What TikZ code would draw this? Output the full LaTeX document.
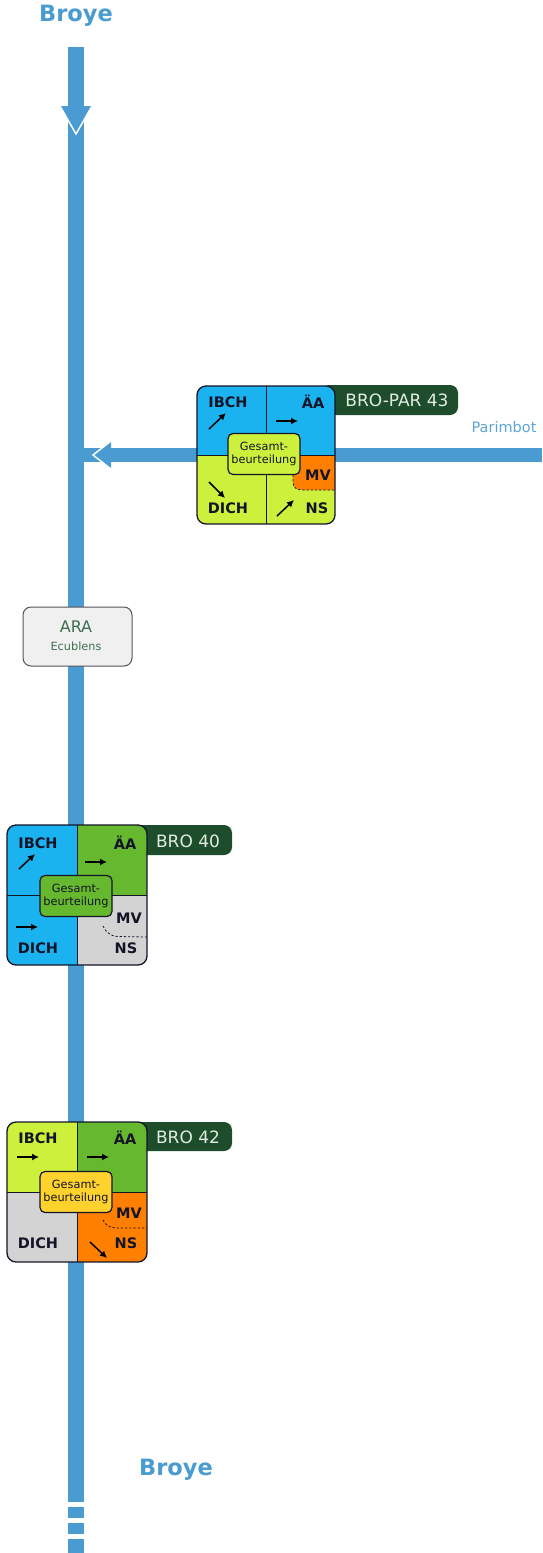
\documentclass[tikz,border=0pt]{standalone}
\usepackage{fontspec}
\setmainfont{DejaVu Sans}
\usetikzlibrary{arrows.meta}
\definecolor{river}{HTML}{4A9BD2}
\definecolor{riverlight}{HTML}{5DA5D3}
\definecolor{qblue}{HTML}{1AB3F0}
\definecolor{qyg}{HTML}{CDF03C}
\definecolor{qgreen}{HTML}{66B82E}
\definecolor{qgray}{HTML}{D3D3D3}
\definecolor{qorange}{HTML}{FF8000}
\definecolor{qyellow}{HTML}{FFD22E}
\definecolor{labelg}{HTML}{1E4D2B}
\definecolor{labeltext}{HTML}{E2ECE2}
\definecolor{qtext}{HTML}{141428}
\definecolor{aratext}{HTML}{3F6E4F}
\definecolor{arafill}{HTML}{F0F0F0}
\definecolor{araline}{HTML}{555555}
\tikzset{
  qlab/.style={text=qtext, font=\fontsize{14.5}{16}\selectfont\bfseries, inner sep=0pt},
  lbltext/.style={text=labeltext, font=\fontsize{17}{19}\selectfont, inner sep=0pt},
  gesamt/.style={draw=qtext, line width=1.2pt, rounded corners=5pt, minimum width=72pt, minimum height=41pt,
    align=center, inner sep=1pt, text=qtext, font=\fontsize{11.3}{13.5}\selectfont},
  qarrow/.style={draw=black, line width=1.5pt, -{Latex[length=7pt,width=7pt]}},
  divline/.style={draw=qtext, line width=0.9pt},
  boxline/.style={draw=qtext, line width=1.3pt},
  mvdash/.style={draw=qtext, line width=0.8pt, dash pattern=on 2.2pt off 2pt},
  rivertitle/.style={text=river, font=\fontsize{22.5}{25}\selectfont\bfseries, inner sep=0pt}
}
\begin{document}
\begin{tikzpicture}[x=1pt,y=-1pt]
\useasboundingbox (0,0) rectangle (542,1553);

% ---------- river Broye ----------
\node[rivertitle] (broyetop) at (76,16) {Broye};
\node[rivertitle] (broyebot) at (176,1470) {Broye};
\coordinate (rtop) at (76,47);
\coordinate (rend) at (76,1502);
\draw[river, line width=16pt] (rtop) -- (rend);
\fill[river] (68,1507) rectangle (84,1518);
\fill[river] (68,1523) rectangle (84,1534);
\fill[river] (68,1539) rectangle (84,1553);
\filldraw[fill=river, draw=white, line width=1.5pt] (60,106) -- (76,134) -- (92,106);

% ---------- tributary Parimbot ----------
\node[text=riverlight, font=\fontsize{14.5}{16}\selectfont, inner sep=0pt] (parimbot) at (504,427) {Parimbot};
\coordinate (pstart) at (542,455);
\coordinate (pend) at (80,455);
\draw[river, line width=14pt] (pstart) -- (pend);
\filldraw[fill=river, draw=white, line width=1.5pt] (111,441) -- (93,455) -- (111,469);

% ---------- ARA ----------
\node[draw=araline, fill=arafill, line width=1pt, rounded corners=8pt, minimum width=109pt, minimum height=59pt] (ara) at (77.5,636.5) {};
\node[text=aratext, font=\fontsize{16}{18}\selectfont, inner sep=0pt] (aratitle) at (76,627) {ARA};
\node[text=aratext, font=\fontsize{11.3}{13}\selectfont, inner sep=0pt] (arasub) at (76,646) {Ecublens};

% ---------- BRO-PAR 43 ----------
\begin{scope}[shift={(266,455)}]
  \fill[labelg, rounded corners=8pt] (55,-70) rectangle (192,-40);
  \node[lbltext] (par-lbl) at (131,-55) {BRO-PAR 43};
  \begin{scope}
    \clip[rounded corners=9pt] (-69,-69) rectangle (69,69);
    \fill[qblue] (-69,-69) rectangle (69,0);
    \fill[qyg] (-69,0) rectangle (69,69);
    \fill[qorange] (69,0) -- (36,0) .. controls (30,2) and (27,8) .. (27,16) -- (27,27) .. controls (27,32) and (30,35) .. (36,35) -- (69,35) -- cycle;
    \draw[mvdash] (27,20) -- (27,27) .. controls (27,32) and (30,35) .. (36,35) -- (69,35);
  \end{scope}
  \draw[divline] (0,-69) -- (0,69) (-69,0) -- (69,0);
  \draw[boxline, rounded corners=9pt] (-69,-69) rectangle (69,69);
  \node[qlab] (par-ibch) at (-38,-53) {IBCH};
  \node[qlab] (par-aa) at (47,-53) {ÄA};
  \node[qlab] (par-dich) at (-38,53) {DICH};
  \node[qlab] (par-ns) at (51,53) {NS};
  \node[qlab] (par-mv) at (52,20) {MV};
  \draw[qarrow] (-57,-26) -- (-40,-42);
  \draw[qarrow] (10,-34) -- (32,-34);
  \draw[qarrow] (-57,27) -- (-41,43);
  \draw[qarrow] (11,61) -- (28,45);
  \node[gesamt, fill=qyg] (par-g) at (-2,-1) {Gesamt-\\beurteilung};
\end{scope}

% ---------- BRO 40 ----------
\begin{scope}[shift={(77,895)}]
  \fill[labelg, rounded corners=8pt] (55,-70) rectangle (155,-40);
  \node[lbltext] (b40-lbl) at (111,-54) {BRO 40};
  \begin{scope}
    \clip[rounded corners=9pt] (-70,-70) rectangle (70,70);
    \fill[qblue] (-70,-70) rectangle (0,70);
    \fill[qgreen] (0,-70) rectangle (70,0);
    \fill[qgray] (0,0) rectangle (70,70);
    \draw[mvdash] (26,31) .. controls (28,36) and (33,41) .. (40,41.5) -- (70,42);
  \end{scope}
  \draw[divline] (0,-70) -- (0,70) (-70,0) -- (70,0);
  \draw[boxline, rounded corners=9pt] (-70,-70) rectangle (70,70);
  \node[qlab] (b40-ibch) at (-39,-52) {IBCH};
  \node[qlab] (b40-aa) at (48,-52) {ÄA};
  \node[qlab] (b40-dich) at (-39,53) {DICH};
  \node[qlab] (b40-ns) at (49,53) {NS};
  \node[qlab] (b40-mv) at (52,23) {MV};
  \draw[qarrow] (-58,-26) -- (-42,-41);
  \draw[qarrow] (8,-33) -- (30,-33);
  \draw[qarrow] (-61,32) -- (-39,32);
  \node[gesamt, fill=qgreen] (b40-g) at (-1,1) {Gesamt-\\beurteilung};
\end{scope}

% ---------- BRO 42 ----------
\begin{scope}[shift={(77,1192)}]
  \fill[labelg, rounded corners=8pt] (55,-70) rectangle (155,-41);
  \node[lbltext] (b42-lbl) at (111,-55) {BRO 42};
  \begin{scope}
    \clip[rounded corners=9pt] (-70,-70) rectangle (70,70);
    \fill[qyg] (-70,-70) rectangle (0,0);
    \fill[qgreen] (0,-70) rectangle (70,0);
    \fill[qgray] (-70,0) rectangle (0,70);
    \fill[qorange] (0,0) rectangle (70,70);
    \draw[mvdash] (26,28) .. controls (28,33) and (33,36) .. (40,36) -- (70,36);
  \end{scope}
  \draw[divline] (0,-70) -- (0,70) (-70,0) -- (70,0);
  \draw[boxline, rounded corners=9pt] (-70,-70) rectangle (70,70);
  \node[qlab] (b42-ibch) at (-39,-54) {IBCH};
  \node[qlab] (b42-aa) at (48,-54) {ÄA};
  \node[qlab] (b42-dich) at (-39,51) {DICH};
  \node[qlab] (b42-ns) at (49,51) {NS};
  \node[qlab] (b42-mv) at (52,21) {MV};
  \draw[qarrow] (-60,-35) -- (-38,-35);
  \draw[qarrow] (10,-35) -- (32,-35);
  \draw[qarrow] (13,50) -- (30,66);
  \node[gesamt, fill=qyellow] (b42-g) at (-1,0) {Gesamt-\\beurteilung};
\end{scope}
\end{tikzpicture}
\end{document}
